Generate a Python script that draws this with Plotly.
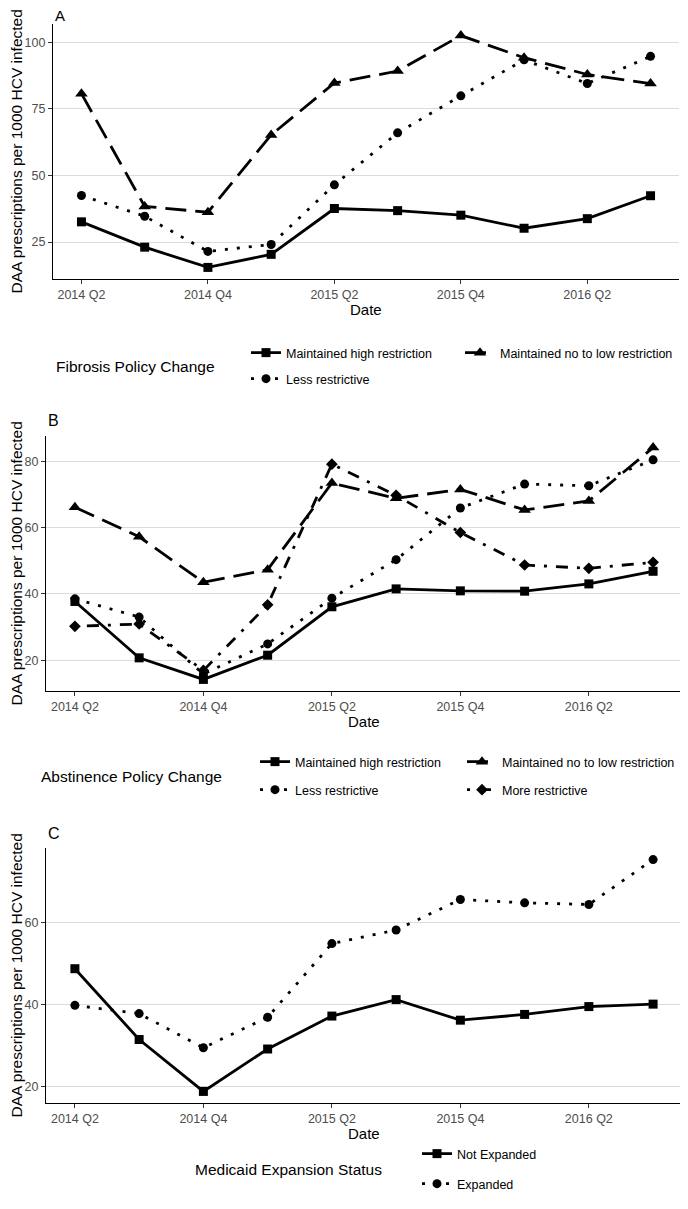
import plotly.graph_objects as go

# ---------------- data ----------------
quarters = ["2014 Q2", "2014 Q3", "2014 Q4", "2015 Q1", "2015 Q2",
            "2015 Q3", "2015 Q4", "2016 Q1", "2016 Q2", "2016 Q3"]
tick_labels = ["2014 Q2", "2014 Q4", "2015 Q2", "2015 Q4", "2016 Q2"]

# Panel A: Fibrosis policy change
fib_high = [32.6, 23.1, 15.5, 20.4, 37.6, 36.8, 35.1, 30.2, 33.8, 42.4]
fib_low = [80.7, 38.4, 36.2, 65.2, 84.7, 89.2, 102.5, 94.2, 87.9, 84.5]
fib_less = [42.5, 34.7, 21.5, 24.1, 46.5, 66.0, 79.9, 93.4, 84.5, 94.7]

# Panel B: Abstinence policy change
abs_high = [37.7, 20.7, 14.2, 21.5, 36.1, 41.5, 40.9, 40.8, 43.0, 46.8]
abs_low = [66.1, 57.2, 43.5, 47.3, 73.4, 68.8, 71.5, 65.3, 68.0, 84.1]
abs_less = [38.5, 33.0, 15.8, 24.9, 38.7, 50.3, 65.9, 73.1, 72.6, 80.4]
abs_more = [30.2, 30.9, 16.9, 36.7, 79.1, 69.7, 58.5, 48.7, 47.7, 49.5]

# Panel C: Medicaid expansion status
med_not = [48.7, 31.5, 18.9, 29.2, 37.2, 41.2, 36.2, 37.6, 39.5, 40.1]
med_exp = [39.8, 37.8, 29.5, 36.9, 54.8, 58.1, 65.5, 64.7, 64.3, 75.2]

ticks_a = [25, 50, 75, 100]
ticks_b = [20, 40, 60, 80]
ticks_c = [20, 40, 60]

# ---------------- styling ----------------
PAGE_W, PAGE_H = 688, 1209
OFF = 8  # default page body margin of the written html
W, H = PAGE_W - OFF, PAGE_H - OFF
FONT = "Liberation Sans, Arial, sans-serif"
LW = 2.8
STY = {
    "high": dict(dash="solid", symbol="square", size=9),
    "low": dict(dash="21px,9px", symbol="triangle-up", size=11),
    "less": dict(dash="3px,9px", symbol="circle", size=9),
    "more": dict(dash="3px,9px,12px,9px", symbol="diamond", size=9),
}


def px_x(p):
    return (p - OFF) / W


def px_y(p):
    return 1 - (p - OFF) / H


fig = go.Figure()


def add(series, name, kind, ax, legend):
    s = STY[kind]
    fig.add_trace(go.Scatter(
        x=quarters, y=series, name=name, mode="lines+markers",
        line=dict(color="black", width=LW, dash=s["dash"]),
        marker=dict(color="black", symbol=s["symbol"], size=s["size"]),
        xaxis="x" + ax, yaxis="y" + ax, legend=legend, showlegend=True,
    ))


add(fib_high, "Maintained high restriction", "high", "", "legend")
add(fib_low, "Maintained no to low restriction", "low", "", "legend2")
add(fib_less, "Less restrictive", "less", "", "legend3")

add(abs_high, "Maintained high restriction", "high", "2", "legend4")
add(abs_low, "Maintained no to low restriction", "low", "2", "legend5")
add(abs_less, "Less restrictive", "less", "2", "legend6")
add(abs_more, "More restrictive", "more", "2", "legend7")

add(med_not, "Not Expanded", "high", "3", "legend8")
add(med_exp, "Expanded", "less", "3", "legend9")


def yrange(*series):
    vals = [v for s in series for v in s]
    lo, hi = min(vals), max(vals)
    pad = 0.05 * (hi - lo)
    return [lo - pad, hi + pad]


def xaxis(dom_px, ydom):
    return dict(
        domain=[px_x(dom_px[0]), px_x(dom_px[1])], anchor=ydom,
        type="category", categoryorder="array", categoryarray=quarters,
        range=[-0.45, len(quarters) - 1 + 0.45],
        tickmode="array", tickvals=tick_labels, ticktext=tick_labels,
        showline=True, linecolor="black", linewidth=1.2,
        ticks="outside", ticklen=4, tickcolor="#333333", tickwidth=1,
        showgrid=False, zeroline=False,
        tickfont=dict(family=FONT, size=12.5, color="#4D4D4D"),
    )


def yaxis(dom_px, xname, rng, tv):
    return dict(
        domain=[px_y(dom_px[1]), px_y(dom_px[0])], anchor=xname,
        range=rng, tickmode="array", tickvals=tv,
        showline=True, linecolor="black", linewidth=1.2,
        ticks="outside", ticklen=4, tickcolor="#333333", tickwidth=1,
        showgrid=True, gridcolor="#DCDCDC", gridwidth=1, zeroline=False,
        tickfont=dict(family=FONT, size=12.5, color="#4D4D4D"),
    )


PA = dict(x=(53, 679), y=(24, 279))
PB = dict(x=(46, 682), y=(436, 691))
PC = dict(x=(46, 682), y=(848, 1103))

layout = dict(
    width=W, height=H,
    margin=dict(l=0, r=0, t=0, b=0, autoexpand=False),
    paper_bgcolor="white", plot_bgcolor="white",
    font=dict(family=FONT, color="black"),
    xaxis=xaxis(PA["x"], "y"),
    yaxis=yaxis(PA["y"], "x", yrange(fib_high, fib_low, fib_less), ticks_a),
    xaxis2=xaxis(PB["x"], "y2"),
    yaxis2=yaxis(PB["y"], "x2", yrange(abs_high, abs_low, abs_less, abs_more), ticks_b),
    xaxis3=xaxis(PC["x"], "y3"),
    yaxis3=yaxis(PC["y"], "x3", yrange(med_not, med_exp), ticks_c),
)


def legend(xpx, ypx):
    return dict(
        x=px_x(xpx), y=px_y(ypx), xanchor="left", yanchor="middle",
        orientation="h", bgcolor="rgba(0,0,0,0)", borderwidth=0,
        font=dict(family=FONT, size=12.5, color="black"),
        itemclick=False, itemdoubleclick=False,
    )


# one legend per entry, laid out like ggplot's two-column legend
layout["legend"] = legend(246, 353)
layout["legend2"] = legend(460, 353)
layout["legend3"] = legend(246, 379)
layout["legend4"] = legend(255, 762)
layout["legend5"] = legend(462, 762)
layout["legend6"] = legend(255, 790)
layout["legend7"] = legend(462, 790)
layout["legend8"] = legend(417, 1154)
layout["legend9"] = legend(417, 1184)

fig.update_layout(**layout)

annotations = []


def ann(text, xpx, ypx, size, xanchor="center", angle=0, yanchor="middle"):
    annotations.append(dict(
        text=text, x=px_x(xpx), y=px_y(ypx), xref="paper", yref="paper",
        xanchor=xanchor, yanchor=yanchor, showarrow=False, textangle=angle,
        font=dict(family=FONT, size=size, color="black"),
    ))


# panel letters
ann("A", 53, 15, 15, xanchor="left")
ann("B", 46, 420, 16, xanchor="left")
ann("C", 46, 833, 16, xanchor="left")

# y titles
YT = "DAA prescriptions per 1000 HCV infected"
ann(YT, 16, (PA["y"][0] + PA["y"][1]) / 2, 15.5, angle=-90)
ann(YT, 16, (PB["y"][0] + PB["y"][1]) / 2, 15.5, angle=-90)
ann(YT, 16, (PC["y"][0] + PC["y"][1]) / 2, 15.5, angle=-90)

# x titles
ann("Date", (PA["x"][0] + PA["x"][1]) / 2, 310, 15)
ann("Date", (PB["x"][0] + PB["x"][1]) / 2, 721, 15)
ann("Date", (PC["x"][0] + PC["x"][1]) / 2, 1133, 15)

# legend titles
ann("Fibrosis Policy Change", 54, 366, 15.5, xanchor="left")
ann("Abstinence Policy Change", 39, 776, 15.5, xanchor="left")
ann("Medicaid Expansion Status", 193, 1169, 15.5, xanchor="left")

fig.update_layout(annotations=annotations)

fig.write_html("out.html")
